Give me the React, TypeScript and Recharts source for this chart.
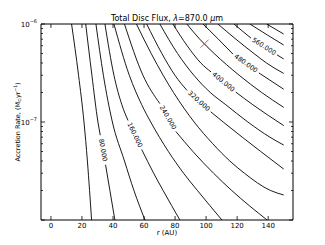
import React from "react";
import { ComposedChart, Line, Scatter, XAxis, YAxis } from "recharts";

type Pt = [number, number | null];

// contour lines of total disc flux as (r [AU], Mdot [Msun/yr]),
// from the top edge down to the bottom / right edge. [r, null] = gap for the inline label
const flux40: Pt[] = [[13.3, 1e-6], [17.8, 3e-7], [21.3, 1e-7], [23.5, 4e-8], [24.9, 2e-8], [26.2, 1e-8]];
const flux80: Pt[] = [[22.4, 1e-6], [26.4, 3e-7], [30.3, 1e-7], [31.8, 7.33e-8], [33.5, null], [35.2, 3.66e-8], [38.0, 2e-8], [41.2, 1e-8]];
const flux120: Pt[] = [[29.0, 1e-6], [33.8, 3e-7], [39.6, 1e-7], [47.4, 4e-8], [53.5, 2e-8], [60.6, 1e-8]];
const flux160: Pt[] = [[34.8, 1e-6], [40.6, 3e-7], [45.7, 1.5e-7], [49.7, 1.035e-7], [54, null], [58.5, 5.24e-8], [66.2, 3e-8], [72.3, 2e-8], [83.1, 1e-8]];
const flux200: Pt[] = [[40.6, 1e-6], [50.5, 3e-7], [58.5, 1.5e-7], [64.3, 1e-7], [75.7, 5e-8], [85.5, 3e-8], [94.4, 2e-8], [110.2, 1e-8]];
const flux240: Pt[] = [[47.4, 1e-6], [59.3, 3e-7], [70.2, 1.54e-7], [75, null], [80.5, 8e-8], [91.5, 5e-8], [104.8, 3e-8], [116.5, 2e-8], [139.3, 1e-8]];
const flux280: Pt[] = [[55.1, 1e-6], [64.6, 5e-7], [72.3, 3e-7], [79.0, 2e-7], [92.3, 1e-7], [104.3, 6e-8], [115.3, 4e-8], [124.7, 3e-8], [141.5, 2e-8], [150, 1.8e-8]];
const flux320: Pt[] = [[61.7, 1e-6], [71.5, 5e-7], [79.9, 3e-7], [87.7, 2.1e-7], [95, null], [103.0, 1.27e-7], [111.0, 1e-7], [123.3, 7e-8], [135.2, 5e-8], [150, 3.31e-8]];
const flux360: Pt[] = [[70.2, 1e-6], [81.6, 5e-7], [92.1, 3e-7], [102.7, 2e-7], [112.7, 1.5e-7], [126.9, 1e-7], [141.1, 7e-8], [150, 5.82e-8]];
const flux400: Pt[] = [[78.6, 1e-6], [87.8, 6e-7], [96.6, 4e-7], [103.2, 3.24e-7], [111, null], [119.1, 2.02e-7], [130.1, 1.5e-7], [150, 9.2e-8]];
const flux440: Pt[] = [[87.6, 1e-6], [95.9, 7e-7], [105.2, 5e-7], [121.3, 3e-7], [135.8, 2e-7], [150, 1.41e-7]];
const flux480: Pt[] = [[98.0, 1e-6], [107.9, 7e-7], [117.3, 4.93e-7], [125, null], [134.0, 3.17e-7], [150, 2.16e-7]];
const flux520: Pt[] = [[107.6, 1e-6], [119.2, 7e-7], [130.8, 5e-7], [138.9, 4e-7], [150, 3.13e-7]];
const flux560: Pt[] = [[117.9, 1e-6], [128.9, 7.18e-7], [137, null], [145.7, 4.84e-7], [150, 4.4e-7]];
const flux600: Pt[] = [[128.2, 1e-6], [139.6, 7.7e-7], [150, 6.1e-7]];
const flux640: Pt[] = [[139.0, 1e-6], [150, 7.9e-7]];

const levels = [40, 80, 120, 160, 200, 240, 280, 320, 360, 400, 440, 480, 520, 560, 600, 640];
const contourPts = [flux40, flux80, flux120, flux160, flux200, flux240, flux280, flux320,
  flux360, flux400, flux440, flux480, flux520, flux560, flux600, flux640];

// red cross
const markerR = [99];
const markerM = [6.3e-7];

const xTicks = [0, 20, 40, 60, 80, 100, 120, 140];
const yMajor = [1e-8, 1e-7, 1e-6];
const yMinor = [2e-8, 3e-8, 4e-8, 5e-8, 6e-8, 7e-8, 8e-8, 9e-8, 2e-7, 3e-7, 4e-7, 5e-7, 6e-7, 7e-7, 8e-7, 9e-7];
const yLabelledExp = [-7, -6];

const FONT = "DejaVu Sans";

const contours = levels.map((lev, i) => {
  const pts = contourPts[i];
  return {
    name: `${lev}.000`,
    data: pts.map((p, j) => ({
      r: p[0],
      m: p[1],
      lab: j + 1 < pts.length && pts[j + 1][1] === null ? `${lev}.000` : undefined,
    })),
  };
});
const markerData = markerR.map((r, i) => ({ r, m: markerM[i] }));

// inline contour label, placed in the gap that follows the flagged point
const ContourLabel = (props: any) => {
  const { index, points, payload } = props;
  if (!payload || !payload.lab || !points) return <g key={`d${index}`} />;
  const a = points[index];
  let j = index + 1;
  while (j < points.length && points[j].y == null) j++;
  const b = points[j];
  if (!a || !b) return <g key={`d${index}`} />;
  const cx = (a.x + b.x) / 2;
  const cy = (a.y + b.y) / 2;
  const ang = (Math.atan2(b.y - a.y, b.x - a.x) * 180) / Math.PI;
  return (
    <text key={`d${index}`} x={cx} y={cy} transform={`rotate(${ang} ${cx} ${cy})`}
      textAnchor="middle" dominantBaseline="central" fontSize={6.5} fontFamily={FONT} fill="#000">
      {payload.lab}
    </text>
  );
};

const BottomTick = ({ x, y, payload }: any) => (
  <g>
    <line x1={x} x2={x} y1={y} y2={y - 4} stroke="#000" strokeWidth={0.8} />
    <text x={x} y={y + 7.5} textAnchor="middle" fontSize={7} fontFamily={FONT} fill="#000">{payload.value}</text>
  </g>
);

const TopTick = ({ x, y }: any) => (
  <line x1={x} x2={x} y1={y} y2={y + 4} stroke="#000" strokeWidth={0.8} />
);

const isMajor = (v: number) => yMajor.some((m) => Math.abs(m - v) / m < 1e-6);

const LeftTick = ({ x, y, payload }: any) => {
  const major = isMajor(payload.value);
  const exp = Math.round(Math.log10(payload.value));
  const lab = major && yLabelledExp.includes(exp) ? `−${-exp}` : null;
  return (
    <g>
      <line x1={x} x2={x + (major ? 4 : 2)} y1={y} y2={y} stroke="#000" strokeWidth={0.8} />
      {lab && (
        <text x={x - 4} y={y + 2.5} textAnchor="end" fontSize={7} fontFamily={FONT} fill="#000">
          10<tspan dy={-3.5} fontSize={5}>{lab}</tspan>
        </text>
      )}
    </g>
  );
};

const RightTick = ({ x, y, payload }: any) => {
  const major = isMajor(payload.value);
  return <line x1={x} x2={x - (major ? 4 : 2)} y1={y} y2={y} stroke="#000" strokeWidth={0.8} />;
};

const Cross = ({ cx, cy }: any) => (
  <g stroke="#e8524c" strokeWidth={1}>
    <line x1={cx - 4} y1={cy - 4} x2={cx + 4} y2={cy + 4} />
    <line x1={cx - 4} y1={cy + 4} x2={cx + 4} y2={cy - 4} />
  </g>
);

const App = () => {
  const xDomain = [-6.4, 156];
  const yDomain = [1e-8, 1e-6];
  return (
    <div style={{ position: "absolute", left: 0, top: 0, width: 325, height: 245, background: "#fff" }}>
      <ComposedChart width={325} height={245} margin={{ top: 0, right: 0, bottom: 0, left: 0 }}>
        <XAxis xAxisId="b" type="number" dataKey="r" domain={xDomain} allowDataOverflow
          ticks={xTicks} interval={0} height={25} tickSize={0} tickMargin={0}
          tick={<BottomTick />} tickLine={false} axisLine={{ stroke: "#000", strokeWidth: 1 }}
          label={{
            content: () => (
              <text x={167} y={235} textAnchor="middle" fontSize={7} fontFamily={FONT} fill="#000">r (AU)</text>
            ),
          }} />
        <XAxis xAxisId="t" orientation="top" type="number" dataKey="r" domain={xDomain} allowDataOverflow
          ticks={xTicks} interval={0} height={24} tickSize={0} tickMargin={0}
          tick={<TopTick />} tickLine={false} axisLine={{ stroke: "#000", strokeWidth: 1 }}
          label={{
            content: () => (
              <text x={167} y={21} textAnchor="middle" fontSize={8} fontFamily={FONT} fill="#000">
                Total Disc Flux, <tspan fontStyle="italic">λ</tspan>=870.0 <tspan fontStyle="italic">μ</tspan>m
              </text>
            ),
          }} />
        <YAxis yAxisId="l" type="number" scale="log" dataKey="m" domain={yDomain} allowDataOverflow
          ticks={[...yMajor, ...yMinor]} interval={0} width={41} tickSize={0} tickMargin={0}
          tick={<LeftTick />} tickLine={false} axisLine={{ stroke: "#000", strokeWidth: 1 }}
          label={{
            content: () => (
              <text transform="translate(19.5,122) rotate(-90)" textAnchor="middle" fontSize={6.5}
                fontFamily={FONT} fill="#000">
                Accretion Rate, (M<tspan dy={1.5} fontSize={4.5}>⊙</tspan>
                <tspan dy={-1.5}>yr</tspan><tspan dy={-2.5} fontSize={4.5}>−1</tspan><tspan dy={2.5}>)</tspan>
              </text>
            ),
          }} />
        <YAxis yAxisId="rt" orientation="right" type="number" scale="log" dataKey="m" domain={yDomain}
          allowDataOverflow ticks={[...yMajor, ...yMinor]} interval={0} width={32} tickSize={0}
          tickMargin={0} tick={<RightTick />} tickLine={false} axisLine={{ stroke: "#000", strokeWidth: 1 }} />
        {contours.map((c) => (
          <Line key={c.name} data={c.data} xAxisId="b" yAxisId="l" dataKey="m" type="monotone"
            stroke="#000" strokeWidth={0.9} dot={ContourLabel} activeDot={false}
            connectNulls={false} legendType="none" isAnimationActive={false} />
        ))}
        <Scatter data={markerData} xAxisId="b" yAxisId="l" dataKey="m" shape={<Cross />}
          legendType="none" isAnimationActive={false} />
      </ComposedChart>
    </div>
  );
};

export default App;
